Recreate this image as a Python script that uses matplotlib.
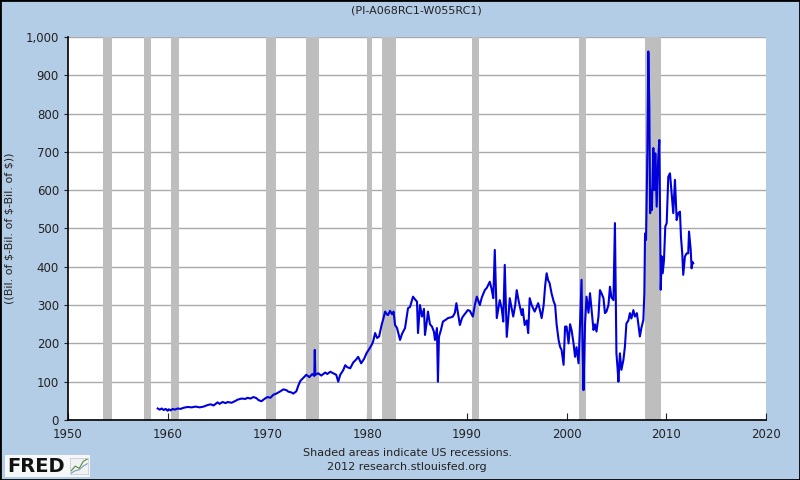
import matplotlib
matplotlib.use("Agg")
from matplotlib import pyplot as plt
from matplotlib.patches import Rectangle
from matplotlib.ticker import FuncFormatter

# values (decimal year, billions of $)
years = [1959.0, 1959.2, 1959.4, 1959.6, 1959.8, 1960.0, 1960.1, 1960.3, 1960.5, 1960.7,
         1961.0, 1961.3, 1961.6, 1962.0, 1962.4, 1962.8, 1963.2, 1963.6, 1964.0, 1964.3,
         1964.6, 1965.0, 1965.2, 1965.5, 1965.8, 1966.0, 1966.4, 1966.8, 1967.0, 1967.4,
         1967.8, 1968.0, 1968.3, 1968.6, 1968.9, 1969.1, 1969.4, 1969.7, 1970.0, 1970.3,
         1970.6, 1970.9, 1971.1, 1971.3, 1971.6, 1971.9, 1972.1, 1972.4, 1972.6, 1972.9,
         1973.1, 1973.3, 1973.6, 1973.9, 1974.2, 1974.5, 1974.7, 1974.75, 1974.8, 1975.1,
         1975.4, 1975.8, 1976.0, 1976.3, 1976.6, 1976.9, 1977.1, 1977.3, 1977.6, 1977.8,
         1978.0, 1978.3, 1978.6, 1978.9, 1979.1, 1979.4, 1979.7, 1979.95, 1980.2, 1980.45,
         1980.6, 1980.8, 1981.0, 1981.2, 1981.45, 1981.6, 1981.8, 1982.0, 1982.1, 1982.3,
         1982.5, 1982.65, 1982.8, 1983.0, 1983.3, 1983.5, 1983.8, 1984.0, 1984.1, 1984.3,
         1984.6, 1984.8, 1985.0, 1985.1, 1985.3, 1985.5, 1985.7, 1985.8, 1986.0, 1986.1,
         1986.3, 1986.5, 1986.7, 1986.8, 1987.0, 1987.1, 1987.2, 1987.4, 1987.6, 1987.9,
         1988.1, 1988.4, 1988.6, 1988.8, 1988.95, 1989.1, 1989.3, 1989.5, 1989.6, 1989.9,
         1990.1, 1990.3, 1990.6, 1990.8, 1991.0, 1991.3, 1991.5, 1991.8, 1992.0, 1992.3,
         1992.5, 1992.65, 1992.8, 1993.0, 1993.3, 1993.5, 1993.65, 1993.8, 1994.0, 1994.2,
         1994.3, 1994.5, 1994.65, 1994.85, 1995.0, 1995.2, 1995.5, 1995.6, 1995.8, 1996.0,
         1996.15, 1996.3, 1996.5, 1996.8, 1997.0, 1997.15, 1997.3, 1997.5, 1997.7, 1997.85,
         1998.0, 1998.15, 1998.3, 1998.5, 1998.7, 1998.85, 1999.0, 1999.2, 1999.35, 1999.5,
         1999.7, 1999.85, 2000.0, 2000.2, 2000.35, 2000.5, 2000.7, 2000.85, 2001.0, 2001.2,
         2001.35, 2001.5, 2001.6, 2001.7, 2001.85, 2002.0, 2002.2, 2002.35, 2002.5, 2002.7,
         2002.85, 2003.0, 2003.2, 2003.35, 2003.5, 2003.7, 2003.85, 2004.0, 2004.2, 2004.35,
         2004.5, 2004.7, 2004.85, 2005.0, 2005.1, 2005.2, 2005.35, 2005.5, 2005.7, 2005.85,
         2006.0, 2006.2, 2006.35, 2006.5, 2006.7, 2006.85, 2007.05, 2007.2, 2007.35, 2007.5,
         2007.7, 2007.8, 2007.87, 2007.97, 2008.1, 2008.2, 2008.3, 2008.38, 2008.47, 2008.55,
         2008.7, 2008.8, 2008.9, 2009.04, 2009.15, 2009.3, 2009.37, 2009.44, 2009.54, 2009.64,
         2009.77, 2009.9, 2010.04, 2010.2, 2010.37, 2010.54, 2010.7, 2010.87, 2011.04, 2011.2,
         2011.37, 2011.47, 2011.6, 2011.7, 2011.87, 2012.04, 2012.2, 2012.28, 2012.45, 2012.54,
         2012.62, 2012.7]
values = [30, 27, 30, 26, 29, 24, 28, 25, 29, 27,
          30, 29, 32, 34, 33, 35, 33, 35, 39, 41,
          38, 46, 42, 47, 44, 47, 45, 50, 53, 56,
          55, 58, 56, 60, 57, 52, 49, 55, 60, 58,
          66, 69, 72, 75, 80, 78, 74, 72, 69, 75,
          90, 102, 110, 118, 112, 120, 115, 183, 118, 122,
          116, 124, 120, 126, 122, 118, 100, 118, 130, 143,
          138, 135, 150, 158, 165, 148, 160, 175, 185, 196,
          205, 227, 214, 218, 248, 262, 283, 275, 274, 285,
          276, 283, 248, 240, 209, 225, 240, 275, 292, 295,
          322, 315, 309, 227, 300, 270, 290, 222, 260, 283,
          250, 244, 230, 209, 240, 100, 217, 235, 257, 262,
          266, 268, 270, 280, 305, 280, 248, 265, 270, 280,
          287, 285, 270, 300, 322, 300, 320, 339, 345, 361,
          340, 318, 444, 266, 313, 290, 257, 405, 217, 280,
          318, 290, 270, 300, 339, 310, 274, 290, 248, 260,
          227, 318, 300, 283, 295, 305, 290, 266, 300, 350,
          383, 365, 357, 330, 310, 300, 250, 209, 191, 183,
          144, 244, 244, 200, 250, 235, 200, 165, 190, 148,
          250, 366, 200, 78, 250, 322, 280, 331, 290, 235,
          250, 231, 270, 339, 331, 318, 279, 283, 300, 348,
          320, 313, 514, 174, 140, 100, 174, 131, 157, 191,
          252, 260, 279, 265, 287, 270, 279, 250, 218, 240,
          261, 331, 487, 470, 692, 962, 818, 540, 600, 548,
          710, 600, 696, 557, 662, 731, 557, 340, 427, 383,
          418, 505, 514, 635, 644, 592, 540, 627, 522, 540,
          544, 479, 435, 379, 427, 435, 435, 492, 444, 396,
          413, 409]

# NBER recessions (start, end)
rec_start = [1953.5, 1957.6, 1960.3, 1969.9, 1973.9, 1980.0, 1981.5, 1990.5, 2001.2, 2007.9]
rec_end = [1954.4, 1958.3, 1961.1, 1970.9, 1975.2, 1980.5, 1982.9, 1991.2, 2001.9, 2009.5]

bg = '#B4CDE6'
plt.rcParams['font.family'] = ['Verdana', 'DejaVu Sans']

fig = plt.figure(figsize=(8, 4.8), dpi=100, facecolor=bg)
ax = fig.add_axes([0.085, 0.125, 0.8725, 0.798])
ax.set_facecolor('white')

for s, e in zip(rec_start, rec_end):
    ax.axvspan(s, e, color='#BEBEBE', lw=0, zorder=1)

ax.set_xlim(1950, 2020)
ax.set_ylim(0, 1000)
ax.set_yticks(range(0, 1001, 100))
ax.set_xticks(range(1950, 2021, 10))
ax.yaxis.set_major_formatter(FuncFormatter(lambda v, p: '{:,.0f}'.format(v)))
ax.grid(axis='y', color='#AAAAAA', lw=1, zorder=0)
ax.set_axisbelow(True)

ax.plot(years, values, color='#0000DD', lw=1.5, zorder=3)

for sp in ['top', 'right']:
    ax.spines[sp].set_visible(False)
ax.spines['left'].set_color('black')
ax.spines['bottom'].set_color('black')
ax.spines['left'].set_linewidth(1.2)
ax.spines['bottom'].set_linewidth(1.2)
ax.tick_params(axis='x', direction='in', length=5, labelsize=8.5, colors='#222222', pad=6)
ax.tick_params(axis='y', direction='out', length=3, labelsize=8.5, colors='#222222')

ax.set_ylabel('((Bil. of $-Bil. of $-Bil. of $))', fontsize=8, color='#222222')
ax.yaxis.set_label_coords(-0.076, 0.5)
fig.text(0.521, 0.979, '(PI-A068RC1-W055RC1)', ha='center', va='center', fontsize=8, color='#222222')
fig.text(0.509, 0.056, 'Shaded areas indicate US recessions.', ha='center', va='center', fontsize=8, color='#222222')
fig.text(0.509, 0.027, '2012 research.stlouisfed.org', ha='center', va='center', fontsize=8, color='#222222')

# FRED logo
fig.patches.append(Rectangle((0.006, 0.006), 0.107, 0.046, transform=fig.transFigure,
                             facecolor='#F6F7F8', edgecolor='none', zorder=5))
fig.text(0.009, 0.029, 'FRED', ha='left', va='center', fontsize=14, fontweight='heavy',
         color='#111111', zorder=6)
lax = fig.add_axes([0.088, 0.013, 0.022, 0.032], zorder=7)
lax.set_facecolor('#F0F2F4')
lax.plot([0, 1, 2, 3, 4], [1, 2, 1.5, 3, 3.5], color='#5A8A3A', lw=0.8)
lax.plot([0, 1, 2, 3, 4], [0.5, 1, 1.2, 2, 2.5], color='#7A9AC0', lw=0.8)
lax.set_xticks([])
lax.set_yticks([])
for sp in lax.spines.values():
    sp.set_color('#C0C8D0')
    sp.set_linewidth(0.5)

fig.patches.append(Rectangle((0, 0), 1, 1, transform=fig.transFigure, fill=False,
                             edgecolor='black', lw=2, zorder=10))

fig.savefig('out.png', dpi=100, facecolor=bg)
